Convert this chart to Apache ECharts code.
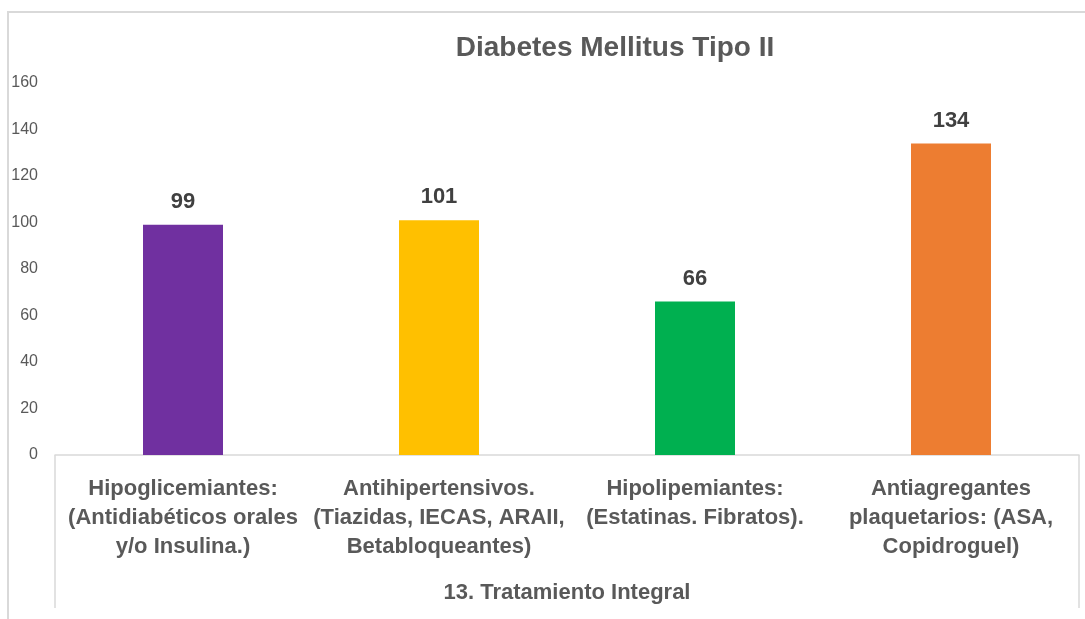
<!DOCTYPE html>
<html>
<head>
<meta charset="utf-8">
<title>Diabetes Mellitus Tipo II</title>
<script src="https://cdn.jsdelivr.net/npm/echarts@6/dist/echarts.min.js"></script>
<style>
  html, body { margin: 0; padding: 0; background: #ffffff; }
  #chart { width: 1085px; height: 619px; }
</style>
</head>
<body>
<div id="chart"></div>
<script>
// Treatment groups (with their printed line breaks), counts and bar colours
var categories = [
  'Hipoglicemiantes:\n(Antidiabéticos orales\ny/o Insulina.)',
  'Antihipertensivos.\n(Tiazidas, IECAS, ARAII,\nBetabloqueantes)',
  'Hipolipemiantes:\n(Estatinas. Fibratos).',
  'Antiagregantes\nplaquetarios: (ASA,\nCopidroguel)'
];
var counts = [99, 101, 66, 134];
var barColors = ['#7030a0', '#ffc000', '#00b050', '#ed7d31'];
var groupLabel = ['13. Tratamiento Integral'];
var chartTitle = 'Diabetes Mellitus Tipo II';

var sans = "'Liberation Sans', Arial, sans-serif";
var frameColor = '#d9d9d9';

var chart = echarts.init(document.getElementById('chart'), null, { renderer: 'canvas' });

chart.setOption({
  backgroundColor: '#ffffff',
  animation: false,
  title: {
    text: chartTitle,
    left: 615,
    top: 34,
    textAlign: 'center',
    padding: 0,
    textStyle: {
      fontFamily: sans,
      fontWeight: 'bold',
      fontSize: 28,
      color: '#595959'
    }
  },
  graphic: [
    {
      // chart frame: left and top edges
      type: 'polyline',
      silent: true,
      shape: { points: [[8, 640], [8, 12], [1100, 12]] },
      style: { stroke: frameColor, lineWidth: 2, fill: null }
    }
  ],
  grid: { left: 55, right: 6, top: 83, bottom: 164, containLabel: false },
  xAxis: [
    {
      type: 'category',
      data: categories,
      position: 'bottom',
      boundaryGap: true,
      axisLine: { show: true, lineStyle: { color: frameColor, width: 1.5 } },
      axisTick: { show: false },
      axisLabel: {
        interval: 0,
        margin: 19,
        fontFamily: sans,
        fontWeight: 'bold',
        fontSize: 22,
        lineHeight: 29,
        color: '#595959',
        align: 'center'
      },
      splitLine: { show: false }
    },
    {
      type: 'category',
      data: groupLabel,
      position: 'bottom',
      offset: 0,
      boundaryGap: true,
      axisLine: { show: false },
      axisTick: { show: true, length: 153, lineStyle: { color: frameColor, width: 1.5 } },
      axisLabel: {
        margin: 127,
        fontFamily: sans,
        fontWeight: 'bold',
        fontSize: 22,
        color: '#595959'
      },
      splitLine: { show: false }
    }
  ],
  yAxis: {
    type: 'value',
    min: 0,
    max: 160,
    interval: 20,
    axisLine: { show: false },
    axisTick: { show: false },
    splitLine: { show: false },
    axisLabel: {
      margin: 17,
      fontFamily: sans,
      fontSize: 16,
      color: '#595959'
    }
  },
  series: [
    {
      type: 'bar',
      xAxisIndex: 0,
      barWidth: 80,
      data: counts.map(function (v, i) {
        return { value: v, itemStyle: { color: barColors[i] } };
      }),
      label: {
        show: true,
        position: 'top',
        distance: 12,
        fontFamily: sans,
        fontWeight: 'bold',
        fontSize: 22,
        color: '#404040'
      }
    }
  ]
});
</script>
</body>
</html>
